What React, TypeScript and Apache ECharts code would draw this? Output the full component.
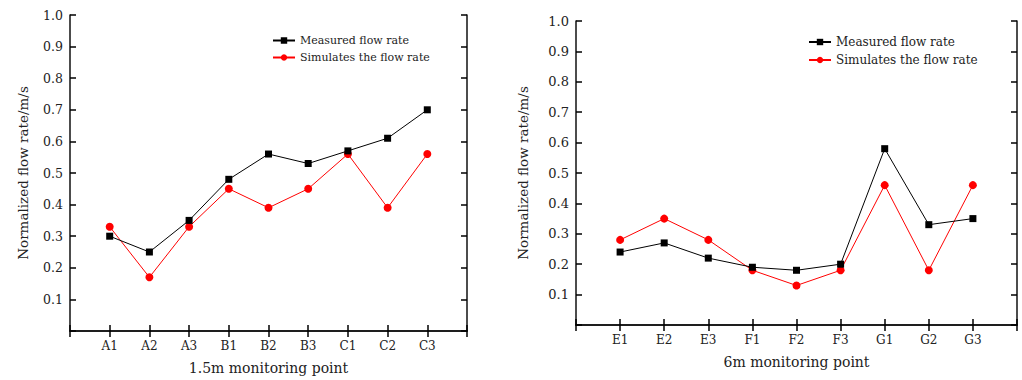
import React, { useEffect, useRef } from "react";
import * as echarts from "echarts";

const leftCategories = ["A1", "A2", "A3", "B1", "B2", "B3", "C1", "C2", "C3"];
const leftMeasured = [0.3, 0.25, 0.35, 0.48, 0.56, 0.53, 0.57, 0.61, 0.7];
const leftSimulated = [0.33, 0.17, 0.33, 0.45, 0.39, 0.45, 0.56, 0.39, 0.56];

const rightCategories = ["E1", "E2", "E3", "F1", "F2", "F3", "G1", "G2", "G3"];
const rightMeasured = [0.24, 0.27, 0.22, 0.19, 0.18, 0.2, 0.58, 0.33, 0.35];
const rightSimulated = [0.28, 0.35, 0.28, 0.18, 0.13, 0.18, 0.46, 0.18, 0.46];

const leftAxisName = "1.5m monitoring point";
const rightAxisName = "6m monitoring point";
const yAxisName = "Normalized flow rate/m/s";
const measuredName = "Measured flow rate";
const simulatedName = "Simulates the flow rate";

const FONT = "DejaVu Serif";
const TXT = "#222";

export default function App() {
  const ref = useRef<HTMLDivElement>(null);
  useEffect(() => {
    if (!ref.current) return;
    const chart = echarts.init(ref.current, undefined, { renderer: "svg" });
    const pad = (c: string[]) => ["", ...c, ""];
    const tick = () => ({ show: true, inside: true, length: 6, lineStyle: { color: "#000", width: 1.5 } });
    const mainX = (grid: number, cats: string[], name: string) => ({
      type: "category",
      gridIndex: grid,
      data: pad(cats),
      boundaryGap: false,
      axisLine: { show: true, lineStyle: { color: "#111", width: 1.5 } },
      axisTick: tick(),
      axisLabel: { interval: 0, color: TXT, fontFamily: FONT, fontSize: 12, margin: 9 },
      name,
      nameLocation: "middle",
      nameGap: 30,
      nameTextStyle: { color: TXT, fontFamily: FONT, fontSize: 14 },
    });
    const topX = (grid: number, cats: string[]) => ({
      type: "category",
      gridIndex: grid,
      data: pad(cats),
      boundaryGap: false,
      position: "top",
      axisLine: { show: true, lineStyle: { color: "#111", width: 1.5 } },
      axisTick: tick(),
      axisLabel: { show: false },
    });
    const mainY = (grid: number, gap: number, fs: number) => ({
      type: "value",
      gridIndex: grid,
      min: 0,
      max: 1,
      interval: 0.1,
      axisLine: { show: true, lineStyle: { color: "#111", width: 1.5 } },
      axisTick: tick(),
      axisLabel: {
        color: TXT,
        fontFamily: FONT,
        fontSize: fs,
        margin: 7,
        formatter: (v: number) => (v === 0 ? "" : v.toFixed(1)),
      },
      splitLine: { show: false },
      name: yAxisName,
      nameLocation: "middle",
      nameGap: gap,
      nameTextStyle: { color: TXT, fontFamily: FONT, fontSize: 13.5 },
    });
    const rightY = (grid: number) => ({
      type: "value",
      gridIndex: grid,
      min: 0,
      max: 1,
      interval: 0.1,
      position: "right",
      axisLine: { show: true, lineStyle: { color: "#111", width: 1.5 } },
      axisTick: tick(),
      axisLabel: { show: false },
      splitLine: { show: false },
    });
    const seriesFor = (xi: number, yi: number, cats: string[], meas: number[], sim: number[]) => [
      {
        type: "line",
        name: measuredName,
        xAxisIndex: xi,
        yAxisIndex: yi,
        data: cats.map((c, i) => [c, meas[i]]),
        symbol: "rect",
        symbolSize: 7,
        itemStyle: { color: "#000" },
        lineStyle: { color: "#000", width: 1 },
        z: 3,
      },
      {
        type: "line",
        name: simulatedName,
        xAxisIndex: xi,
        yAxisIndex: yi,
        data: cats.map((c, i) => [c, sim[i]]),
        symbol: "circle",
        symbolSize: 8,
        itemStyle: { color: "#ff0000" },
        lineStyle: { color: "#ff0000", width: 1 },
        z: 2,
      },
    ];
    const legendFor = (left: number, top: number, fs: number) => ({
      orient: "vertical",
      left,
      top,
      itemWidth: 22,
      itemHeight: 8,
      itemGap: 6,
      data: [measuredName, simulatedName],
      textStyle: { color: TXT, fontFamily: FONT, fontSize: fs },
      selectedMode: false,
    });
    chart.setOption({
      animation: false,
      grid: [
        { left: 70, top: 15, right: 555, bottom: 48 },
        { left: 576, top: 21, right: 5, bottom: 55 },
      ],
      legend: [legendFor(267, 30, 11), legendFor(803, 31, 12)],
      xAxis: [
        mainX(0, leftCategories, leftAxisName),
        mainX(1, rightCategories, rightAxisName),
        topX(0, leftCategories),
        topX(1, rightCategories),
      ],
      yAxis: [mainY(0, 40, 12.5), mainY(1, 46, 13), rightY(0), rightY(1)],
      series: [
        ...seriesFor(0, 0, leftCategories, leftMeasured, leftSimulated),
        ...seriesFor(1, 1, rightCategories, rightMeasured, rightSimulated),
      ],
    });
    return () => chart.dispose();
  }, []);
  return (
    <div
      ref={ref}
      style={{ position: "fixed", left: 0, top: 0, width: 1022, height: 380, background: "#fff" }}
    />
  );
}
